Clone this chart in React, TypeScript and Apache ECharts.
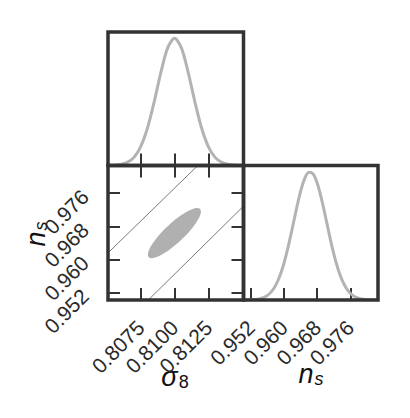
import React, { useEffect, useRef } from "react";
import * as echarts from "echarts";

// sigma_8 marginal posterior (normalised to peak = 1)
const sigma8Grid = [
  0.805, 0.8055, 0.806, 0.8065, 0.807, 0.8075, 0.808, 0.8085, 0.809, 0.8095, 0.81,
  0.8105, 0.811, 0.8115, 0.812, 0.8125, 0.813, 0.8135, 0.814, 0.8145, 0.815,
];
const sigma8Density = [
  0.0005, 0.002, 0.0076, 0.024, 0.064, 0.149, 0.295, 0.503, 0.737, 0.927, 1.0,
  0.927, 0.737, 0.503, 0.295, 0.149, 0.064, 0.024, 0.0076, 0.002, 0.0005,
];

// n_s marginal posterior (normalised to peak = 1)
const nsGrid = [
  0.95, 0.951, 0.952, 0.953, 0.954, 0.955, 0.956, 0.957, 0.958, 0.959, 0.96, 0.961,
  0.962, 0.963, 0.964, 0.965, 0.966, 0.967, 0.968, 0.969, 0.97, 0.971, 0.972, 0.973,
  0.974, 0.975, 0.976, 0.977, 0.978, 0.979, 0.98, 0.981, 0.982, 0.983,
];
const nsDensity = [
  0.0002, 0.0007, 0.0017, 0.004, 0.0089, 0.0185, 0.0363, 0.067, 0.116, 0.189, 0.289,
  0.416, 0.561, 0.712, 0.848, 0.949, 0.997, 0.985, 0.914, 0.796, 0.652, 0.501, 0.362,
  0.246, 0.157, 0.094, 0.053, 0.028, 0.0139, 0.0065, 0.0028, 0.0012, 0.0005, 0.0002,
];

// Axis ranges and ticks
const sigma8Range = [0.80508, 0.8151];
const nsRange = [0.9502, 0.9827];
const sigma8Ticks = [0.8075, 0.81, 0.8125];
const nsTicks = [0.952, 0.96, 0.968, 0.976];

// 2D contour (sigma_8, n_s): centre, half-extent along each axis, correlation
const ellipseCenter = [0.80999, 0.96637];
const ellipseHalfExtent = [0.00196, 0.00606];
const ellipseCorrelation = 0.86;

// Thin diagonal lines in the 2D panel (sigma_8, n_s)
const diagLine1 = [
  [0.805, 0.96132],
  [0.8125, 0.98517],
];
const diagLine2 = [
  [0.808, 0.95],
  [0.8152, 0.97319],
];

const DARK = "#333333";
const CURVE = "#b3b3b3";
const FONT = "Liberation Sans";
const LABEL_SIZE = 21;

export default function App() {
  const ref = useRef<HTMLDivElement>(null);

  useEffect(() => {
    if (!ref.current) return;
    const chart = echarts.init(ref.current, undefined, { renderer: "svg" });

    const tick = (values: number[]) => ({
      show: true,
      inside: true,
      length: 12,
      customValues: values,
      lineStyle: { color: DARK, width: 2 },
    });
    const noLabel = { show: false };
    const label = (values: number[], digits: number, margin: number) => ({
      show: true,
      rotate: 45,
      margin,
      customValues: values,
      formatter: (v: number) => Number(v).toFixed(digits),
      color: "#2a2a2a",
      fontSize: LABEL_SIZE,
      fontFamily: FONT,
    });
    const base = {
      type: "value" as const,
      axisLine: { show: false },
      splitLine: { show: false },
    };
    const gridStyle = {
      show: true,
      borderColor: DARK,
      borderWidth: 3.5,
      backgroundColor: "transparent",
      z: 10,
    };
    const titleRich = (sub: string, subItalic: boolean) => ({
      text: "{a|" + sub[0] + "}{b|" + sub.slice(1) + "}",
      textAlign: "center",
      textVerticalAlign: "middle",
      fill: "#111",
      rich: {
        a: { fontSize: 27, fontStyle: "italic", fontFamily: FONT, fill: "#111" },
        b: {
          fontSize: 18,
          fontStyle: subItalic ? "italic" : "normal",
          fontFamily: FONT,
          fill: "#111",
          verticalAlign: "bottom",
          padding: [10, 0, 0, 1],
        },
      },
    });

    const option: any = {
      animation: false,
      backgroundColor: "#ffffff",
      grid: [
        { ...gridStyle, left: 108, top: 32, width: 135.5, height: 133.5 },
        { ...gridStyle, left: 108, top: 165.5, width: 135.5, height: 134.5 },
        { ...gridStyle, left: 243.5, top: 165.5, width: 134.5, height: 134.5 },
      ],
      xAxis: [
        {
          ...base,
          gridIndex: 0,
          min: sigma8Range[0],
          max: sigma8Range[1],
          position: "bottom",
          axisTick: tick(sigma8Ticks),
          axisLabel: noLabel,
        },
        {
          ...base,
          gridIndex: 1,
          min: sigma8Range[0],
          max: sigma8Range[1],
          position: "bottom",
          axisTick: tick(sigma8Ticks),
          axisLabel: label(sigma8Ticks, 4, 24),
        },
        {
          ...base,
          gridIndex: 1,
          min: sigma8Range[0],
          max: sigma8Range[1],
          position: "top",
          axisTick: tick(sigma8Ticks),
          axisLabel: noLabel,
        },
        {
          ...base,
          gridIndex: 2,
          min: nsRange[0],
          max: nsRange[1],
          position: "bottom",
          axisTick: tick(nsTicks),
          axisLabel: label(nsTicks, 3, 24),
        },
      ],
      yAxis: [
        {
          ...base,
          gridIndex: 0,
          min: 0,
          max: 1.05,
          axisTick: { show: false },
          axisLabel: noLabel,
        },
        {
          ...base,
          gridIndex: 1,
          min: nsRange[0],
          max: nsRange[1],
          position: "left",
          axisTick: tick(nsTicks),
          axisLabel: label(nsTicks, 3, 23),
        },
        {
          ...base,
          gridIndex: 1,
          min: nsRange[0],
          max: nsRange[1],
          position: "right",
          axisTick: tick(nsTicks),
          axisLabel: noLabel,
        },
        {
          ...base,
          gridIndex: 2,
          min: 0,
          max: 1.05,
          axisTick: { show: false },
          axisLabel: noLabel,
        },
      ],
      series: [
        {
          type: "line",
          xAxisIndex: 0,
          yAxisIndex: 0,
          data: sigma8Grid.map((x, i) => [x, sigma8Density[i]]),
          smooth: 0.3,
          showSymbol: false,
          lineStyle: { color: CURVE, width: 3 },
          clip: true,
        },
        {
          type: "line",
          xAxisIndex: 3,
          yAxisIndex: 3,
          data: nsGrid.map((x, i) => [x, nsDensity[i]]),
          smooth: 0.3,
          showSymbol: false,
          lineStyle: { color: CURVE, width: 3 },
          clip: true,
        },
        {
          type: "line",
          xAxisIndex: 1,
          yAxisIndex: 1,
          data: diagLine1,
          showSymbol: false,
          lineStyle: { color: "#7a7a7a", width: 1 },
          clip: true,
        },
        {
          type: "line",
          xAxisIndex: 1,
          yAxisIndex: 1,
          data: diagLine2,
          showSymbol: false,
          lineStyle: { color: "#7a7a7a", width: 1 },
          clip: true,
        },
        {
          type: "custom",
          xAxisIndex: 1,
          yAxisIndex: 1,
          data: [ellipseCenter],
          clip: true,
          renderItem: (_params: any, api: any) => {
            const cx = api.value(0);
            const cy = api.value(1);
            const r = ellipseCorrelation;
            const pts: number[][] = [];
            const n = 90;
            for (let i = 0; i < n; i++) {
              const t = (i / n) * Math.PI * 2;
              const x = cx + ellipseHalfExtent[0] * Math.cos(t);
              const y =
                cy +
                ellipseHalfExtent[1] *
                  (r * Math.cos(t) + Math.sqrt(1 - r * r) * Math.sin(t));
              pts.push(api.coord([x, y]));
            }
            return {
              type: "polygon",
              shape: { points: pts },
              style: { fill: "#b0b0b0", stroke: null },
            };
          },
        },
      ],
      graphic: [
        { type: "text", x: 175, y: 377, style: titleRich("σ8", false) },
        { type: "text", x: 311, y: 374, style: titleRich("ns", true) },
        { type: "text", x: 36, y: 234, rotation: Math.PI / 2, style: titleRich("ns", true) },
      ],
    };

    chart.setOption(option);
    return () => chart.dispose();
  }, []);

  return (
    <div
      ref={ref}
      style={{ position: "absolute", left: 0, top: 0, width: 410, height: 418, background: "#fff" }}
    />
  );
}
